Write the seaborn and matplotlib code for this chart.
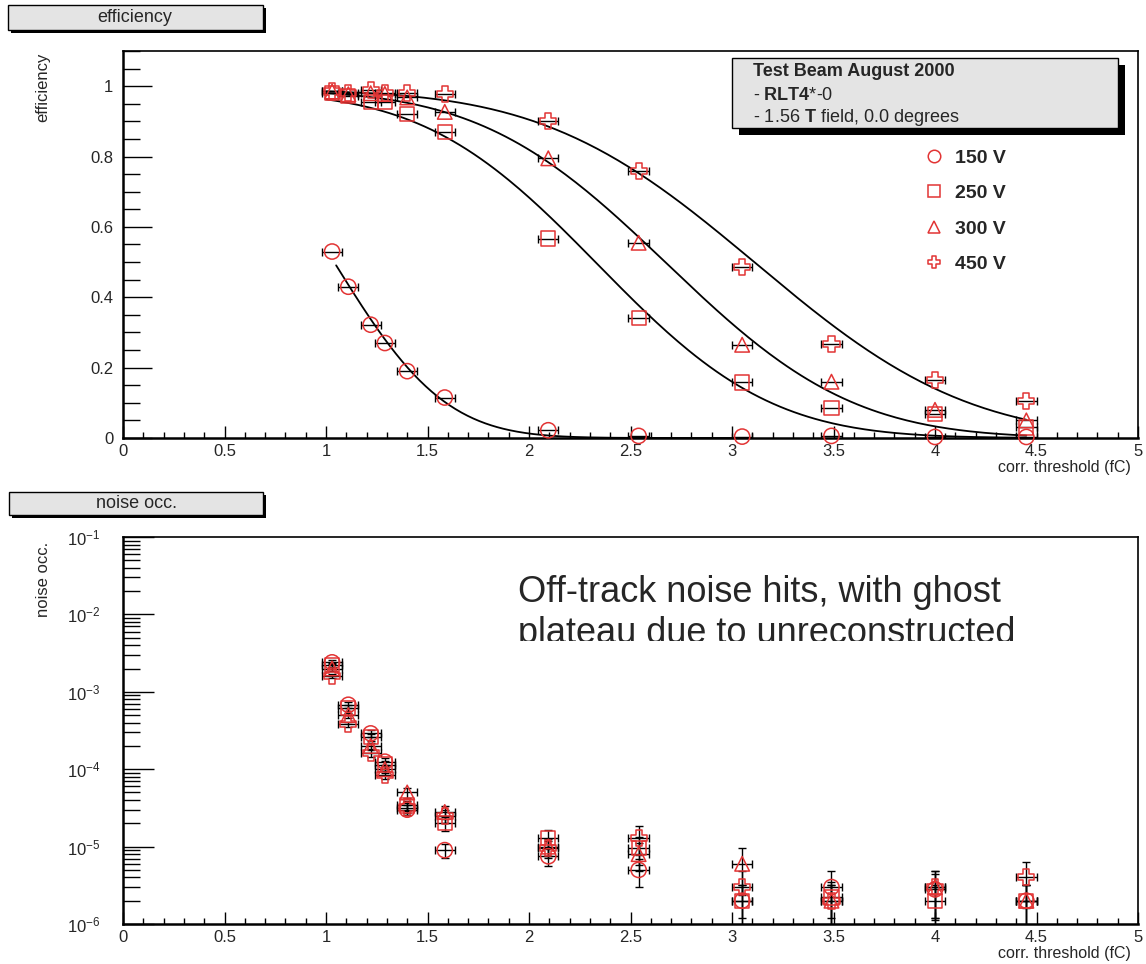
import numpy as np
import pandas as pd
import matplotlib
matplotlib.use("Agg")
import matplotlib.pyplot as plt
import seaborn as sns
from matplotlib.patches import Rectangle
from matplotlib.path import Path
from matplotlib.lines import Line2D
from matplotlib.transforms import Bbox, TransformedBbox
from matplotlib.ticker import MultipleLocator, LogLocator, NullFormatter
from math import erfc, sqrt

# ---------------- data ----------------
voltages = ["150 V", "250 V", "300 V", "450 V"]
thresholds = [1.03, 1.11, 1.22, 1.29, 1.40, 1.585, 2.095, 2.54, 3.05, 3.49, 4.00, 4.45]
threshold_err = [0.05, 0.05, 0.05, 0.05, 0.05, 0.05, 0.05, 0.05, 0.05, 0.05, 0.05, 0.05]

eff_150 = [0.53, 0.43, 0.322, 0.27, 0.19, 0.115, 0.022, 0.006, 0.004, 0.006, 0.003, 0.003]
eff_250 = [0.98, 0.972, 0.955, 0.955, 0.92, 0.87, 0.567, 0.342, 0.158, 0.085, 0.068, 0.030]
eff_300 = [0.985, 0.977, 0.98, 0.978, 0.968, 0.927, 0.795, 0.555, 0.265, 0.16, 0.08, 0.05]
eff_450 = [0.985, 0.98, 0.99, 0.98, 0.98, 0.977, 0.90, 0.759, 0.487, 0.268, 0.165, 0.105]

# erfc fit parameters (as drawn): mean, width, plateau, x-range
fit_mu = [1.04, 2.34, 2.68, 3.12]
fit_sigma = [0.43, 0.67, 0.72, 0.82]
fit_plateau = [1.0, 0.985, 0.99, 0.99]
fit_start = [1.05, 1.0, 1.0, 1.0]
fit_end = [3.0, 4.45, 4.45, 4.45]

noise_150 = [2.4e-3, 6.8e-4, 2.9e-4, 1.25e-4, 3.0e-5, 9.0e-6, 7.5e-6, 5.0e-6, 2.0e-6, 3.0e-6, 2.8e-6, 2.0e-6]
noise_250 = [2.2e-3, 6.2e-4, 2.6e-4, 1.15e-4, 3.4e-5, 2.0e-5, 1.3e-5, 9.5e-6, 2.0e-6, 2.2e-6, 2.0e-6, 2.0e-6]
noise_300 = [2.0e-3, 5.0e-4, 2.0e-4, 1.0e-4, 5.0e-5, 2.8e-5, 1.0e-5, 8.0e-6, 6.0e-6, 2.0e-6, 3.0e-6, 2.0e-6]
noise_450 = [1.6e-3, 3.8e-4, 1.6e-4, 8.5e-5, 3.2e-5, 2.5e-5, 9.5e-6, 1.3e-5, 3.0e-6, 2.0e-6, 3.0e-6, 4.0e-6]
noise_rel_err = [0.06, 0.08, 0.1, 0.12, 0.15, 0.2, 0.25, 0.4, 0.6, 0.6, 0.6, 0.6]

box_title_top = "efficiency"
box_title_bottom = "noise occ."
info_lines = ["Test Beam August 2000", "- $\\mathbf{RLT4}$*-0", "- 1.56 $\\mathbf{T}$ field, 0.0 degrees"]
note_lines = ["Off-track noise hits, with ghost", "plateau due to unreconstructed"]

# ---------------- style ----------------
sns.set_theme(style="white")
plt.rcParams["font.family"] = ["Liberation Sans", "DejaVu Sans"]
plt.rcParams["mathtext.fontset"] = "custom"
plt.rcParams["mathtext.rm"] = "Liberation Sans"
plt.rcParams["mathtext.bf"] = "Liberation Sans:bold"
plt.rcParams["mathtext.it"] = "Liberation Sans:italic"

RED = "#e23434"
W, H = 1146, 964
fig = plt.figure(figsize=(W / 100, H / 100), dpi=100)
fig.patch.set_facecolor("white")


def fx(x):
    return x / W


def fy(y):
    return 1 - y / H


ax1 = fig.add_axes([fx(123), fy(438), (1138 - 123) / W, (438 - 51) / H])
ax2 = fig.add_axes([fx(123), fy(924), (1138 - 123) / W, (924 - 537) / H])

# open cross marker
a = 0.19
plus = Path([(-a, 0.5), (a, 0.5), (a, a), (0.5, a), (0.5, -a), (a, -a), (a, -0.5),
             (-a, -0.5), (-a, -a), (-0.5, -a), (-0.5, a), (-a, a), (-a, 0.5)], closed=True)
marker_map = {"150 V": "o", "250 V": "s", "300 V": "^", "450 V": plus}
marker_size = {"150 V": 120, "250 V": 105, "300 V": 110, "450 V": 135}

effs = [eff_150, eff_250, eff_300, eff_450]
noises = [noise_150, noise_250, noise_300, noise_450]

eff_df = pd.DataFrame({
    "threshold": np.tile(thresholds, 4),
    "efficiency": np.concatenate(effs),
    "voltage": np.repeat(voltages, len(thresholds)),
})
noise_df = pd.DataFrame({
    "threshold": np.tile(thresholds, 4),
    "noise": np.concatenate(noises),
    "voltage": np.repeat(voltages, len(thresholds)),
})

# fit curves
rows = []
for v, mu, sg, pl, x0, x1 in zip(voltages, fit_mu, fit_sigma, fit_plateau, fit_start, fit_end):
    xs = np.linspace(x0, x1, 200)
    ys = [pl * 0.5 * erfc((x - mu) / (sqrt(2) * sg)) for x in xs]
    rows.append(pd.DataFrame({"x": xs, "y": ys, "voltage": v}))
fit_df = pd.concat(rows, ignore_index=True)

# ---------------- top panel ----------------
sns.lineplot(data=fit_df, x="x", y="y", units="voltage", estimator=None, color="black",
             lw=1.3, ax=ax1, zorder=2, legend=False)
for e in effs:
    ax1.errorbar(thresholds, e, xerr=threshold_err, fmt="none", ecolor="black",
                 elinewidth=1.0, capsize=3, capthick=1.0, zorder=2.5)
for v in voltages:
    sub = eff_df[eff_df.voltage == v]
    sns.scatterplot(data=sub, x="threshold", y="efficiency", marker=marker_map[v],
                    s=marker_size[v], color=RED, facecolors="none", edgecolor=RED,
                    linewidth=1.1, ax=ax1, zorder=3, legend=False, clip_on=False)

ax1.set_xlim(0, 5)
ax1.set_ylim(0, 1.1)

# ---------------- bottom panel ----------------
ax2.set_yscale("log")
for n in noises:
    n = np.array(n)
    ax2.errorbar(thresholds, n, xerr=threshold_err, yerr=n * np.array(noise_rel_err),
                 fmt="none", ecolor="black", elinewidth=1.0, capsize=3, capthick=1.0, zorder=2.5)
for v in voltages:
    sub = noise_df[noise_df.voltage == v]
    sns.scatterplot(data=sub, x="threshold", y="noise", marker=marker_map[v],
                    s=marker_size[v], color=RED, facecolors="none", edgecolor=RED,
                    linewidth=1.1, ax=ax2, zorder=3, legend=False)
ax2.set_xlim(0, 5)
ax2.set_ylim(1e-6, 1e-1)

# ---------------- axes styling ----------------
for ax in (ax1, ax2):
    for s in ("left", "bottom"):
        ax.spines[s].set_linewidth(1.8)
        ax.spines[s].set_color("black")
    for s in ("top", "right"):
        ax.spines[s].set_linewidth(1.2)
        ax.spines[s].set_color("black")
    ax.set_xlabel("")
    ax.set_ylabel("")
    ax.xaxis.set_major_locator(MultipleLocator(0.5))
    ax.xaxis.set_minor_locator(MultipleLocator(0.1))
    ax.xaxis.set_major_formatter(matplotlib.ticker.FuncFormatter(lambda v, p: f"{v:g}"))
    ax.tick_params(axis="x", which="major", direction="in", length=8.5, width=1.0,
                   labelsize=12, pad=4, top=False, bottom=True, color="black")
    ax.tick_params(axis="x", which="minor", direction="in", length=4, width=1.0,
                   top=False, bottom=True, color="black")
    ax.text(0.993, -0.056, "corr. threshold (fC)", transform=ax.transAxes, ha="right",
            va="top", fontsize=11.5)

ax1.yaxis.set_major_locator(MultipleLocator(0.2))
ax1.yaxis.set_minor_locator(MultipleLocator(0.05))
ax1.yaxis.set_major_formatter(matplotlib.ticker.FuncFormatter(lambda v, p: f"{v:g}"))
ax1.tick_params(axis="y", which="major", direction="in", length=21, width=1.0,
                labelsize=12, pad=7, left=True, right=False, color="black")
ax1.tick_params(axis="y", which="minor", direction="in", length=12, width=1.0,
                left=True, right=False, color="black")

ax2.yaxis.set_major_locator(LogLocator(base=10, numticks=10))
ax2.yaxis.set_minor_locator(LogLocator(base=10, subs=np.arange(2, 10), numticks=20))
ax2.yaxis.set_minor_formatter(NullFormatter())
ax2.tick_params(axis="y", which="major", direction="in", length=22, width=1.0,
                labelsize=12, pad=16, left=True, right=False, color="black")
ax2.tick_params(axis="y", which="minor", direction="in", length=12, width=1.0,
                left=True, right=False, color="black")

# axis titles
fig.text(fx(43), fy(53), "efficiency", rotation=90, ha="center", va="top", fontsize=12)
fig.text(fx(43), fy(542), "noise occ.", rotation=90, ha="center", va="top", fontsize=12)


# ---------------- boxes ----------------
def shadow_box(x0, y0, x1, y1, off):
    fig.patches.append(Rectangle((fx(x0 + off), fy(y1 + off)), (x1 - x0) / W, (y1 - y0) / H,
                                 transform=fig.transFigure, facecolor="black",
                                 edgecolor="none", zorder=5))
    fig.patches.append(Rectangle((fx(x0), fy(y1)), (x1 - x0) / W, (y1 - y0) / H,
                                 transform=fig.transFigure, facecolor="#e4e4e4",
                                 edgecolor="black", lw=1.0, zorder=6))


shadow_box(8, 5, 263, 30, 3)
fig.text(fx(135), fy(17.5), box_title_top, ha="center", va="center", fontsize=13, zorder=7)
shadow_box(9, 492, 263, 515, 3)
fig.text(fx(136), fy(503.5), box_title_bottom, ha="center", va="center", fontsize=13, zorder=7)

shadow_box(732, 58, 1118, 128, 7)
for yy, line in zip([72, 95, 117], info_lines):
    fig.text(fx(753), fy(yy), line, ha="left", va="center", fontsize=13, zorder=7,
             weight="bold" if yy == 72 else "normal")

# voltage legend
handles = [Line2D([], [], linestyle="none", marker=marker_map[v], markersize=9,
                  markerfacecolor="none", markeredgecolor=RED, markeredgewidth=1.1)
           for v in voltages]
ax1.legend(handles, voltages, loc="upper left", bbox_to_anchor=(fx(924), fy(149)),
           bbox_transform=fig.transFigure, frameon=False,
           prop={"weight": "bold", "size": 14}, handlelength=1.0, handletextpad=0.6,
           labelspacing=0.92, borderpad=0, borderaxespad=0)

# annotation (second line clipped as in the original)
fig.text(fx(518), fy(602), note_lines[0], ha="left", va="baseline", fontsize=26, zorder=8)
t2 = fig.text(fx(518), fy(643), note_lines[1], ha="left", va="baseline", fontsize=26, zorder=8)
t2.set_clip_box(TransformedBbox(Bbox([[0, fy(641)], [1, 1]]), fig.transFigure))
t2.set_clip_on(True)

fig.savefig("out.png", dpi=100)
